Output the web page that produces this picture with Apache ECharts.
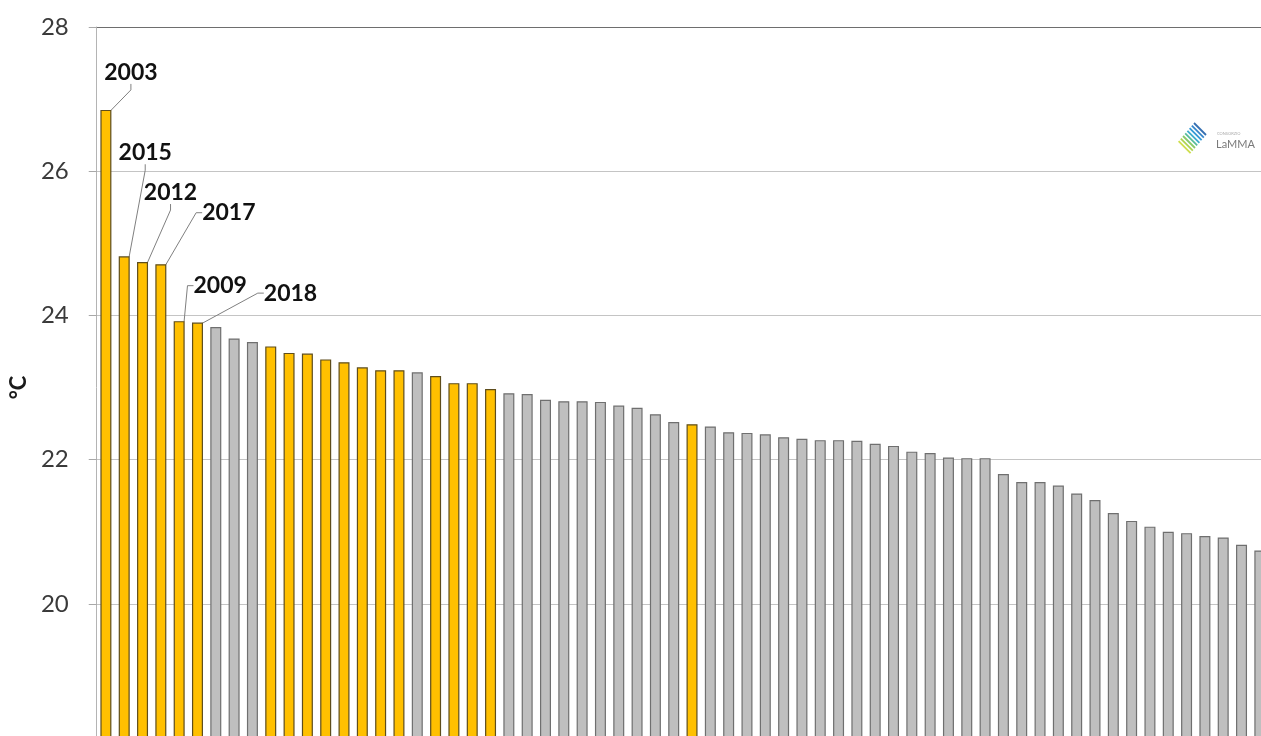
<!DOCTYPE html>
<html>
<head>
<meta charset="utf-8">
<title>Temperature ranking</title>
<script src="https://cdn.jsdelivr.net/npm/echarts@6/dist/echarts.min.js"></script>
<style>
  html, body { margin: 0; padding: 0; overflow: hidden; background: #fff; }
  /* the reference is cropped on the right and at the bottom, so the chart is a bit bigger than the window */
  #chart { width: 1270px; height: 760px; }
</style>
</head>
<body>
<div id="chart"></div>
<script>
// mean temperature per year, ranked from warmest (°C)
const temps = [
  26.85, 24.82, 24.74, 24.71, 23.92, 23.90, 23.84, 23.68, 23.63, 23.57,
  23.48, 23.47, 23.39, 23.35, 23.28, 23.24, 23.24, 23.21, 23.16, 23.06,
  23.06, 22.98, 22.92, 22.91, 22.83, 22.81, 22.81, 22.80, 22.75, 22.72,
  22.63, 22.52, 22.49, 22.46, 22.38, 22.37, 22.35, 22.31, 22.29, 22.27,
  22.27, 22.26, 22.22, 22.19, 22.11, 22.09, 22.03, 22.02, 22.02, 21.80,
  21.69, 21.69, 21.64, 21.53, 21.44, 21.26, 21.15, 21.07, 21.00, 20.98,
  20.94, 20.92, 20.82, 20.74
]
// 1 = year of the 2000s (yellow), 0 = older year (grey)
const recent = [
  1, 1, 1, 1, 1, 1, 0, 0, 0, 1,
  1, 1, 1, 1, 1, 1, 1, 0, 1, 1,
  1, 1, 0, 0, 0, 0, 0, 0, 0, 0,
  0, 0, 1, 0, 0, 0, 0, 0, 0, 0,
  0, 0, 0, 0, 0, 0, 0, 0, 0, 0,
  0, 0, 0, 0, 0, 0, 0, 0, 0, 0,
  0, 0, 0, 0
]
// years written above the warmest bars
const yearTags = ['2003', '2015', '2012', '2017', '2009', '2018']
const ranks = temps.map((_, i) => String(i + 1))
const yTicks = [18, 20, 22, 24, 26, 28]

// where each year tag sits relative to its bar top (px)
const tagShift = [[25, -21], [21, -87], [28, -53], [68, -35], [41, -19], [93, -13]]

const chart = echarts.init(document.getElementById('chart'))

const barData = temps.map((v, i) => ({
  value: v,
  itemStyle: recent[i]
    ? { color: '#FFC000', borderColor: '#5e4d1c' }
    : { color: '#BFBFBF', borderColor: '#6f6f6f' },
  label: { show: i < yearTags.length }
}))

// logo stripes, blue at the top-right to green at the bottom-left
const stripeColors = ['#1f5fa8', '#2079c4', '#1e8fd2', '#2aa4c6', '#45b58f', '#7cc35a', '#a5cf3c', '#c9da3a']
const logo = stripeColors.map((c, k) => {
  const cx = 1200 - 2.2 * k
  const cy = 129 + 2.6 * k
  return {
    type: 'line',
    shape: { x1: cx - 6, y1: cy - 6, x2: cx + 6, y2: cy + 6 },
    style: { stroke: c, lineWidth: 1.8, opacity: 0.9 }
  }
})
logo.push(
  { type: 'text', left: 1217, top: 132, style: { text: 'CONSORZIO', fontSize: 4, fill: '#aaa', fontFamily: 'Lato' } },
  { type: 'text', left: 1216, top: 139, style: { text: 'LaMMA', fontSize: 11, fill: '#7a7a7a', fontFamily: 'Lato' } }
)

const option = {
  backgroundColor: '#fff',
  animation: false,
  textStyle: { fontFamily: 'Lato' },
  grid: { left: 96, right: 1, top: 27, bottom: 10 },
  xAxis: {
    type: 'category',
    data: ranks,
    axisLine: { show: false },
    axisTick: { show: false },
    axisLabel: { show: false }
  },
  yAxis: {
    type: 'value',
    min: yTicks[0],
    max: yTicks[yTicks.length - 1],
    interval: 2,
    name: '°C',
    nameLocation: 'middle',
    nameGap: 64,
    nameTextStyle: { fontSize: 22, fontWeight: 'bold', color: '#1a1a1a' },
    axisLine: { show: true, lineStyle: { color: '#b4b4b4' } },
    axisTick: { show: true, length: 8, lineStyle: { color: '#a8a8a8' } },
    axisLabel: { fontSize: 24, color: '#3a3a3a', margin: 28 },
    splitLine: {
      lineStyle: { color: ['#c4c4c4', '#c4c4c4', '#c4c4c4', '#c4c4c4', '#c4c4c4', '#6e6e6e'], width: 1.2 }
    }
  },
  series: [
    {
      type: 'bar',
      data: barData,
      barWidth: 11,
      itemStyle: { borderWidth: 1.2 },
      label: {
        show: false,
        position: 'top',
        formatter: p => yearTags[p.dataIndex] || '',
        fontSize: 23,
        fontWeight: 'bold',
        color: '#111'
      },
      labelLine: { show: true, length2: 6, lineStyle: { color: '#808080', width: 1 } },
      labelLayout: p => {
        const s = tagShift[p.dataIndex]
        return s ? { dx: s[0], dy: s[1] } : {}
      }
    }
  ],
  graphic: logo
}

chart.setOption(option)
window.addEventListener('resize', () => chart.resize())
</script>
</body>
</html>
